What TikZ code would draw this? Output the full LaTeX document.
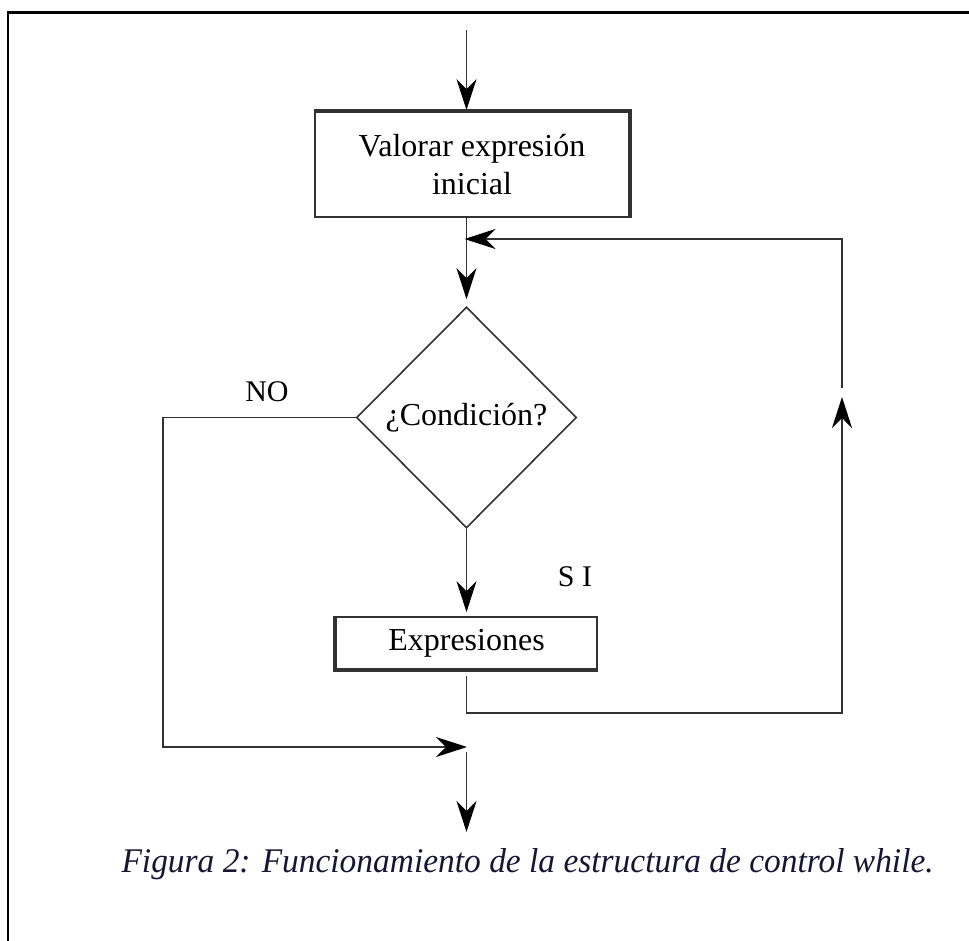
\documentclass[tikz,border=0pt]{standalone}
\usepackage{fontspec}
\setmainfont{Liberation Serif}
\usetikzlibrary{arrows.meta,shapes.geometric}
\definecolor{linegray}{RGB}{50,50,50}
\definecolor{capnavy}{RGB}{22,22,52}
\tikzset{
  flowline/.style={draw=linegray,line width=1.6pt},
  arrowline/.style={flowline,-{Stealth[length=31pt,width=20pt,inset=10pt,color=black]}},
  procbox/.style={rectangle,draw=linegray,line width=1.8pt,inner sep=0pt},
  decision/.style={diamond,draw=linegray,line width=1.6pt,inner sep=0pt,aspect=1},
  bigtext/.style={font=\fontsize{32}{37}\selectfont,text=black},
  edge label/.style={font=\fontsize{30}{34}\selectfont,text=black}
}
\begin{document}
\begin{tikzpicture}[x=1pt,y=-1pt]
\useasboundingbox (0,0) rectangle (969,941);
% frame (top and left rules only)
\draw[line width=2.4pt,black] (8,941) -- (8,12.5) -- (969,12.5);

% nodes
\node[procbox,minimum width=314pt,minimum height=105pt,bigtext,align=center]
  (init) at (472,164.5) {Valorar expresión\\[1pt]inicial};
\node[decision,minimum width=220pt,minimum height=221pt,bigtext]
  (cond) at (466.5,417.5) {\raisebox{-3pt}{¿Condición?}};
\node[procbox,minimum width=261pt,minimum height=52pt,bigtext]
  (body) at (466.5,643) {Expresiones};

% thicker shadow edges of the boxes
\draw[linegray,line width=3.4pt] (init.north west) -- (init.north east) -- (init.south east);
\draw[linegray,line width=3.4pt] (body.north west) -- (body.south west) -- (body.south east);

% labels
\node[edge label] (nolabel) at (267,392) {NO};
\node[edge label] (silabel) at (575,577) {S I};

% coordinates of the flow
\coordinate (entry) at (466.5,30);
\coordinate (merge) at (466.5,239);
\coordinate (loopL) at (466.5,713);
\coordinate (loopR) at (842,713);
\coordinate (upTip) at (842,397);
\coordinate (upTail) at (842,388);
\coordinate (loopTop) at (842,239);
\coordinate (noL) at (163,417.5);
\coordinate (noB) at (163,747);
\coordinate (join) at (467,747);
\coordinate (joinTop) at (466.5,752);
\coordinate (exit) at (466.5,832);

% connectors
\draw[arrowline,shorten >=1pt] (entry) -- (init.north -| entry);
\draw[arrowline,shorten >=7pt] (init.south -| merge) -- (cond.north);
\draw[arrowline,shorten >=4pt] (cond.south) -- (body.north -| cond.south);
\draw[arrowline,shorten <=6pt] (body.south -| loopL) -- (loopL) -- (loopR) -- (upTip);
\draw[arrowline,shorten >=-2pt] (upTail) -- (loopTop) -- (merge);
\draw[arrowline] (cond.west) -- (noL) -- (noB) -- (join);
\draw[arrowline] (joinTop) -- (exit);

% caption
\node[anchor=base west,text=capnavy] (caption) at (118,872)
  {\resizebox{812pt}{24pt}{\itshape Figura 2: Funcionamiento de la estructura de control while.}};
\end{tikzpicture}
\end{document}
